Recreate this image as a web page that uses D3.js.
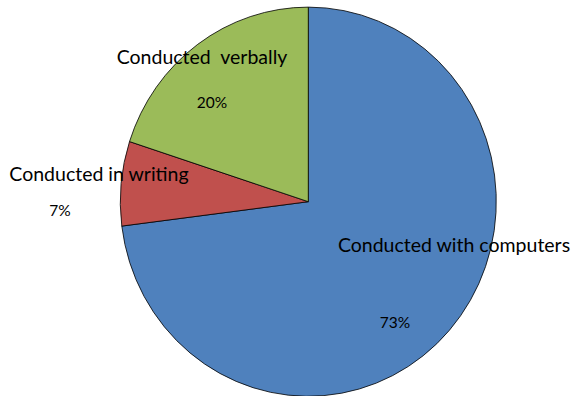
<!DOCTYPE html>
<html>
<head>
<meta charset="utf-8">
<script src="https://cdn.jsdelivr.net/npm/d3@7"></script>
<style>
  html, body { margin: 0; padding: 0; background: #fff; }
  svg { display: block; }
  text { font-family: Lato, "Open Sans", sans-serif; fill: #000; }
</style>
</head>
<body>
<svg id="chart" width="572" height="396"></svg>
<script>
// Survey mode shares (percent)
const categories = ["Conducted with computers", "Conducted in writing", "Conducted  verbally"];
const values = [73, 7, 20];
const colors = ["#4F81BD", "#C0504D", "#9BBB59"];

// Label anchors (name line and percent line) for each slice
const namePos = [[454, 252], [99, 181], [202, 64]];
const pctPos = [[395, 328], [60, 216], [212, 108]];

const width = 572, height = 396;
const cx = 308.3, cy = 201.7, r = 188, yScale = 1.035;

const svg = d3.select("#chart");

const pie = d3.pie().sort(null).value(d => d.v);
const arc = d3.arc().innerRadius(0).outerRadius(r);

const data = categories.map((c, i) => ({ name: c, v: values[i], color: colors[i], i }));

const g = svg.append("g")
  .attr("transform", `translate(${cx},${cy}) scale(1,${yScale})`);

g.selectAll("path")
  .data(pie(data))
  .join("path")
  .attr("d", arc)
  .attr("fill", d => d.data.color)
  .attr("stroke", "#000")
  .attr("stroke-width", 0.8)
  .attr("vector-effect", "non-scaling-stroke");

const labels = svg.append("g");

labels.selectAll("text.name")
  .data(data)
  .join("text")
  .attr("class", "name")
  .attr("x", d => namePos[d.i][0])
  .attr("y", d => namePos[d.i][1])
  .attr("text-anchor", "middle")
  .attr("font-size", 19.5)
  .style("white-space", "pre")
  .text(d => d.name);

labels.selectAll("text.pct")
  .data(data)
  .join("text")
  .attr("class", "pct")
  .attr("x", d => pctPos[d.i][0])
  .attr("y", d => pctPos[d.i][1])
  .attr("text-anchor", "middle")
  .attr("font-size", 15.5)
  .text(d => `${d.v}%`);
</script>
</body>
</html>
